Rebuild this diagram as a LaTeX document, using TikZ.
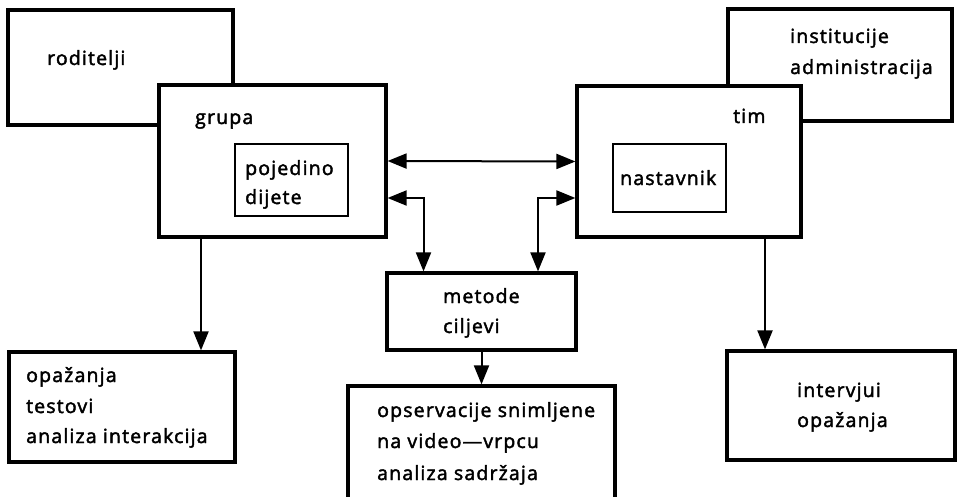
\documentclass[tikz,border=0pt]{standalone}
\usepackage{fontspec}
\setmainfont{Open Sans}[LetterSpace=6,FakeBold=2.2]
\usetikzlibrary{arrows.meta}
\begin{document}
\begin{tikzpicture}[x=1pt,y=-1pt,
  box/.style={draw, line width=3.2pt, fill=white, inner sep=0pt, rectangle},
  ibox/.style={draw, line width=2.8pt, fill=white, inner sep=0pt, rectangle},
  lbl/.style={anchor=base west, inner sep=0pt, font=\fontsize{19.5}{22}\selectfont},
  arr/.style={line width=2pt, -{Triangle[length=19pt,width=15pt]}},
  darr/.style={line width=2pt, {Triangle[length=19pt,width=15pt]}-{Triangle[length=19pt,width=15pt]}}]
\useasboundingbox (0,0) rectangle (957,497);
\clip (0,0) rectangle (957,497);
% boxes
\node[box, minimum width=225pt, minimum height=115pt] (rod) at (120.5,67.5) {};
\node[box, minimum width=227pt, minimum height=152pt] (grupa) at (272.5,161) {};
\node[ibox, minimum width=113pt, minimum height=72pt] (poj) at (291.5,180) {};
\node[box, minimum width=224pt, minimum height=112pt] (inst) at (840,65) {};
\node[box, minimum width=224pt, minimum height=151pt] (tim) at (689,161.5) {};
\node[ibox, minimum width=113pt, minimum height=68pt] (nast) at (669.5,178) {};
\node[box, minimum width=189pt, minimum height=77pt] (met) at (481.5,311.5) {};
\node[box, minimum width=226pt, minimum height=110pt] (opaz) at (122,407) {};
\node[box, minimum width=267pt, minimum height=124pt] (opserv) at (481.5,448) {};
\node[box, minimum width=228pt, minimum height=109pt] (interv) at (841,405.5) {};
% texts
\node[lbl] (t-rod) at (47,65) {roditelji};
\node[lbl] (t-grupa) at (195,124) {grupa};
\node[lbl] (t-poj1) at (245,175) {pojedino};
\node[lbl] (t-poj2) at (245,204) {dijete};
\node[lbl] (t-tim) at (733,123) {tim};
\node[lbl] (t-nast) at (620,185) {nastavnik};
\node[lbl] (t-inst1) at (790,43) {institucije};
\node[lbl] (t-inst2) at (790,74) {administracija};
\node[lbl] (t-met1) at (443,303) {metode};
\node[lbl] (t-met2) at (443,333) {ciljevi};
\node[lbl] (t-op1) at (26,382) {opažanja};
\node[lbl] (t-op2) at (26,413) {testovi};
\node[lbl] (t-op3) at (26,443) {analiza interakcija};
\node[lbl] (t-os1) at (377,417) {opservacije snimljene};
\node[lbl] (t-os2) at (377,448) {na video—vrpcu};
\node[lbl] (t-os3) at (377,480) {analiza sadržaja};
\node[lbl] (t-iv1) at (797,397) {intervjui};
\node[lbl] (t-iv2) at (797,427) {opažanja};
% connectors
\draw[darr] (grupa.east) -- (tim.west);
\draw[darr] ([yshift=-37pt]grupa.east) -| ([xshift=-58pt]met.north);
\draw[darr] ([yshift=-36.5pt]tim.west) -| ([xshift=56.5pt]met.north);
\draw[arr] ([xshift=-71.5pt]grupa.south) -- ([xshift=-71.5pt]grupa.south |- opaz.north);
\draw[arr] ([xshift=76pt]tim.south) -- ([xshift=76pt]tim.south |- interv.north);
\draw[arr] (met.south) -- (opserv.north);
\end{tikzpicture}
\end{document}
